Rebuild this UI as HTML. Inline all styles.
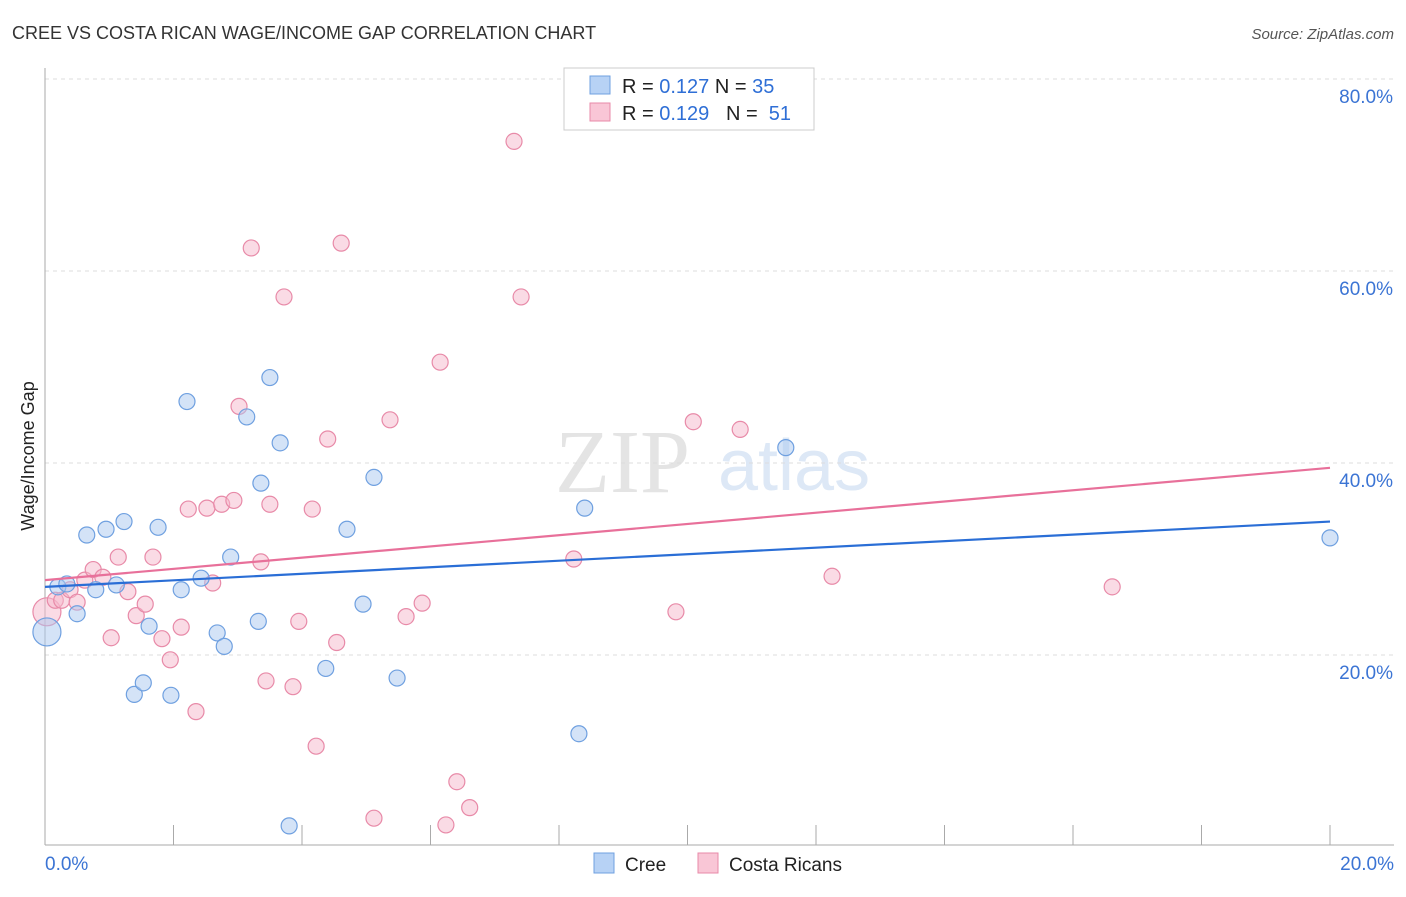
<!DOCTYPE html>
<html><head><meta charset="utf-8"><style>
body{margin:0;background:#fff;font-family:"Liberation Sans",sans-serif;}
</style></head><body>
<svg width="1406" height="892" xmlns="http://www.w3.org/2000/svg">
<text x="12" y="39" font-size="18" fill="#333">CREE VS COSTA RICAN WAGE/INCOME GAP CORRELATION CHART</text>
<text x="1394" y="39" font-size="15" fill="#555" font-style="italic" text-anchor="end">Source: ZipAtlas.com</text>
<g>
<text x="555" y="492" font-size="90" fill="#e4e4e4" font-family="Liberation Serif,serif">ZIP</text>
<text x="718" y="490" font-size="72" fill="#dde8f6">atlas</text>
</g>
<g id="grid"></g>
<g id="axes"></g>
<g id="marks"></g>
<text transform="translate(34,456) rotate(-90)" font-size="18" fill="#222" text-anchor="middle">Wage/Income Gap</text>
<g>
<rect x="564" y="68" width="250" height="62" fill="#fff" stroke="#ccc"/>
<rect x="590" y="76" width="20" height="18" fill="#b7d2f5" stroke="#6fa0e0"/>
<text x="622" y="93" font-size="20" fill="#222">R = <tspan fill="#2f6fd6">0.127</tspan>   N = <tspan fill="#2f6fd6">35</tspan></text>
<rect x="590" y="103" width="20" height="18" fill="#f9c6d6" stroke="#e88aa8"/>
<text x="622" y="120" font-size="20" fill="#222" xml:space="preserve">R = <tspan fill="#2f6fd6">0.129</tspan>   N =  <tspan fill="#2f6fd6">51</tspan></text>
</g>
<g>
<rect x="594" y="853" width="20" height="20" fill="#b7d2f5" stroke="#6fa0e0"/>
<text x="625" y="871" font-size="19" fill="#222">Cree</text>
<rect x="698" y="853" width="20" height="20" fill="#f9c6d6" stroke="#e88aa8"/>
<text x="729" y="871" font-size="19" fill="#222">Costa Ricans</text>
</g>
</svg>
<script>
const creeX=[0.03,0.20,0.34,0.50,0.65,0.79,0.95,1.11,1.23,1.39,1.53,1.62,1.76,1.96,2.12,2.21,2.43,2.68,2.79,2.89,3.14,3.32,3.36,3.50,3.66,3.80,4.37,4.70,4.95,5.12,5.48,8.31,8.40,11.53,20.0];
const creeY=[22.4,27.1,27.4,24.3,32.5,26.8,33.1,27.3,33.9,15.9,17.1,23.0,33.3,15.8,26.8,46.4,28.0,22.3,20.9,30.2,44.8,23.5,37.9,48.9,42.1,2.2,18.6,33.1,25.3,38.5,17.6,11.8,35.3,41.6,32.2];
const costaX=[0.03,0.16,0.26,0.39,0.50,0.62,0.75,0.90,1.03,1.14,1.29,1.42,1.56,1.68,1.82,1.95,2.12,2.23,2.35,2.52,2.61,2.75,2.94,3.02,3.21,3.36,3.44,3.50,3.72,3.86,3.95,4.16,4.22,4.40,4.54,4.61,5.12,5.37,5.62,5.87,6.15,6.24,6.41,6.61,7.30,7.41,8.23,9.82,10.09,10.82,12.25,16.61];
const costaY=[24.5,25.7,25.7,26.8,25.5,27.8,28.9,28.1,21.8,30.2,26.6,24.1,25.3,30.2,21.7,19.5,22.9,35.2,14.1,35.3,27.5,35.7,36.1,45.9,62.4,29.7,17.3,35.7,57.3,16.7,23.5,35.2,10.5,42.5,21.3,62.9,3.0,44.5,24.0,25.4,50.5,2.3,6.8,4.1,73.5,57.3,30.0,24.5,44.3,43.5,28.2,27.1];
const creeTrend=[27.1,33.9];
const costaTrend=[27.8,39.5];
const yTicks=[20,40,60,80];
const yTickLabels=["20.0%","40.0%","60.0%","80.0%"];
const xTickLabels=["0.0%","20.0%"];
const NS="http://www.w3.org/2000/svg";
const xs=v=>45+v/20*1285;
const ys=v=>847-v*9.6;
function mk(tag,attrs,parent){const e=document.createElementNS(NS,tag);for(const k in attrs)e.setAttribute(k,attrs[k]);document.getElementById(parent).appendChild(e);return e;}
yTicks.forEach((t,i)=>{
 const g=mk('line',{x1:45,x2:1394,y1:ys(t),y2:ys(t),stroke:'#ddd','stroke-dasharray':'4 4'},'grid');
 
 
 const l=mk('text',{x:1393,y:ys(t)+24,'font-size':19,fill:'#3b74d4','text-anchor':'end'},'grid');
 l.textContent=yTickLabels[i];
 
 
});
const ax=mk('line',{x1:45,x2:1394,y1:845,y2:845,stroke:'#aaa'},'axes');


const ay=mk('line',{x1:45,x2:45,y1:68,y2:845,stroke:'#aaa'},'axes');


for(let i=0;i<=10;i++){
 const t=mk('line',{x1:xs(i*2),x2:xs(i*2),y1:825,y2:845,stroke:'#aaa'},'axes');
 
 
}
[[0,'start',45],[20,'end',1394]].forEach((d,i)=>{
 const l=mk('text',{x:d[2],y:870,'font-size':19,fill:'#3b74d4','text-anchor':d[1]},'axes');
 l.textContent=xTickLabels[i];
 
 
});
function pts(X,Y,fill,stroke,name){
 X.forEach((x,i)=>{
  const big=(i===0);
  const c=mk('circle',{cx:xs(x),cy:ys(Y[i]),r:big?14:8,fill:fill,'fill-opacity':0.5,stroke:stroke,'stroke-width':1.2},'marks');
  
  
 });
}
pts(costaX,costaY,'#f5b8cb','#e88aa8','costa-point');
pts(creeX,creeY,'#a9c8f0','#6fa0e0','cree-point');
const t1=mk('line',{x1:xs(0),x2:xs(20),y1:ys(creeTrend[0]),y2:ys(creeTrend[1]),stroke:'#2a6ed6','stroke-width':2.2},'marks');


const t2=mk('line',{x1:xs(0),x2:xs(20),y1:ys(costaTrend[0]),y2:ys(costaTrend[1]),stroke:'#e8709a','stroke-width':2.2},'marks');


</script>
</body></html>
